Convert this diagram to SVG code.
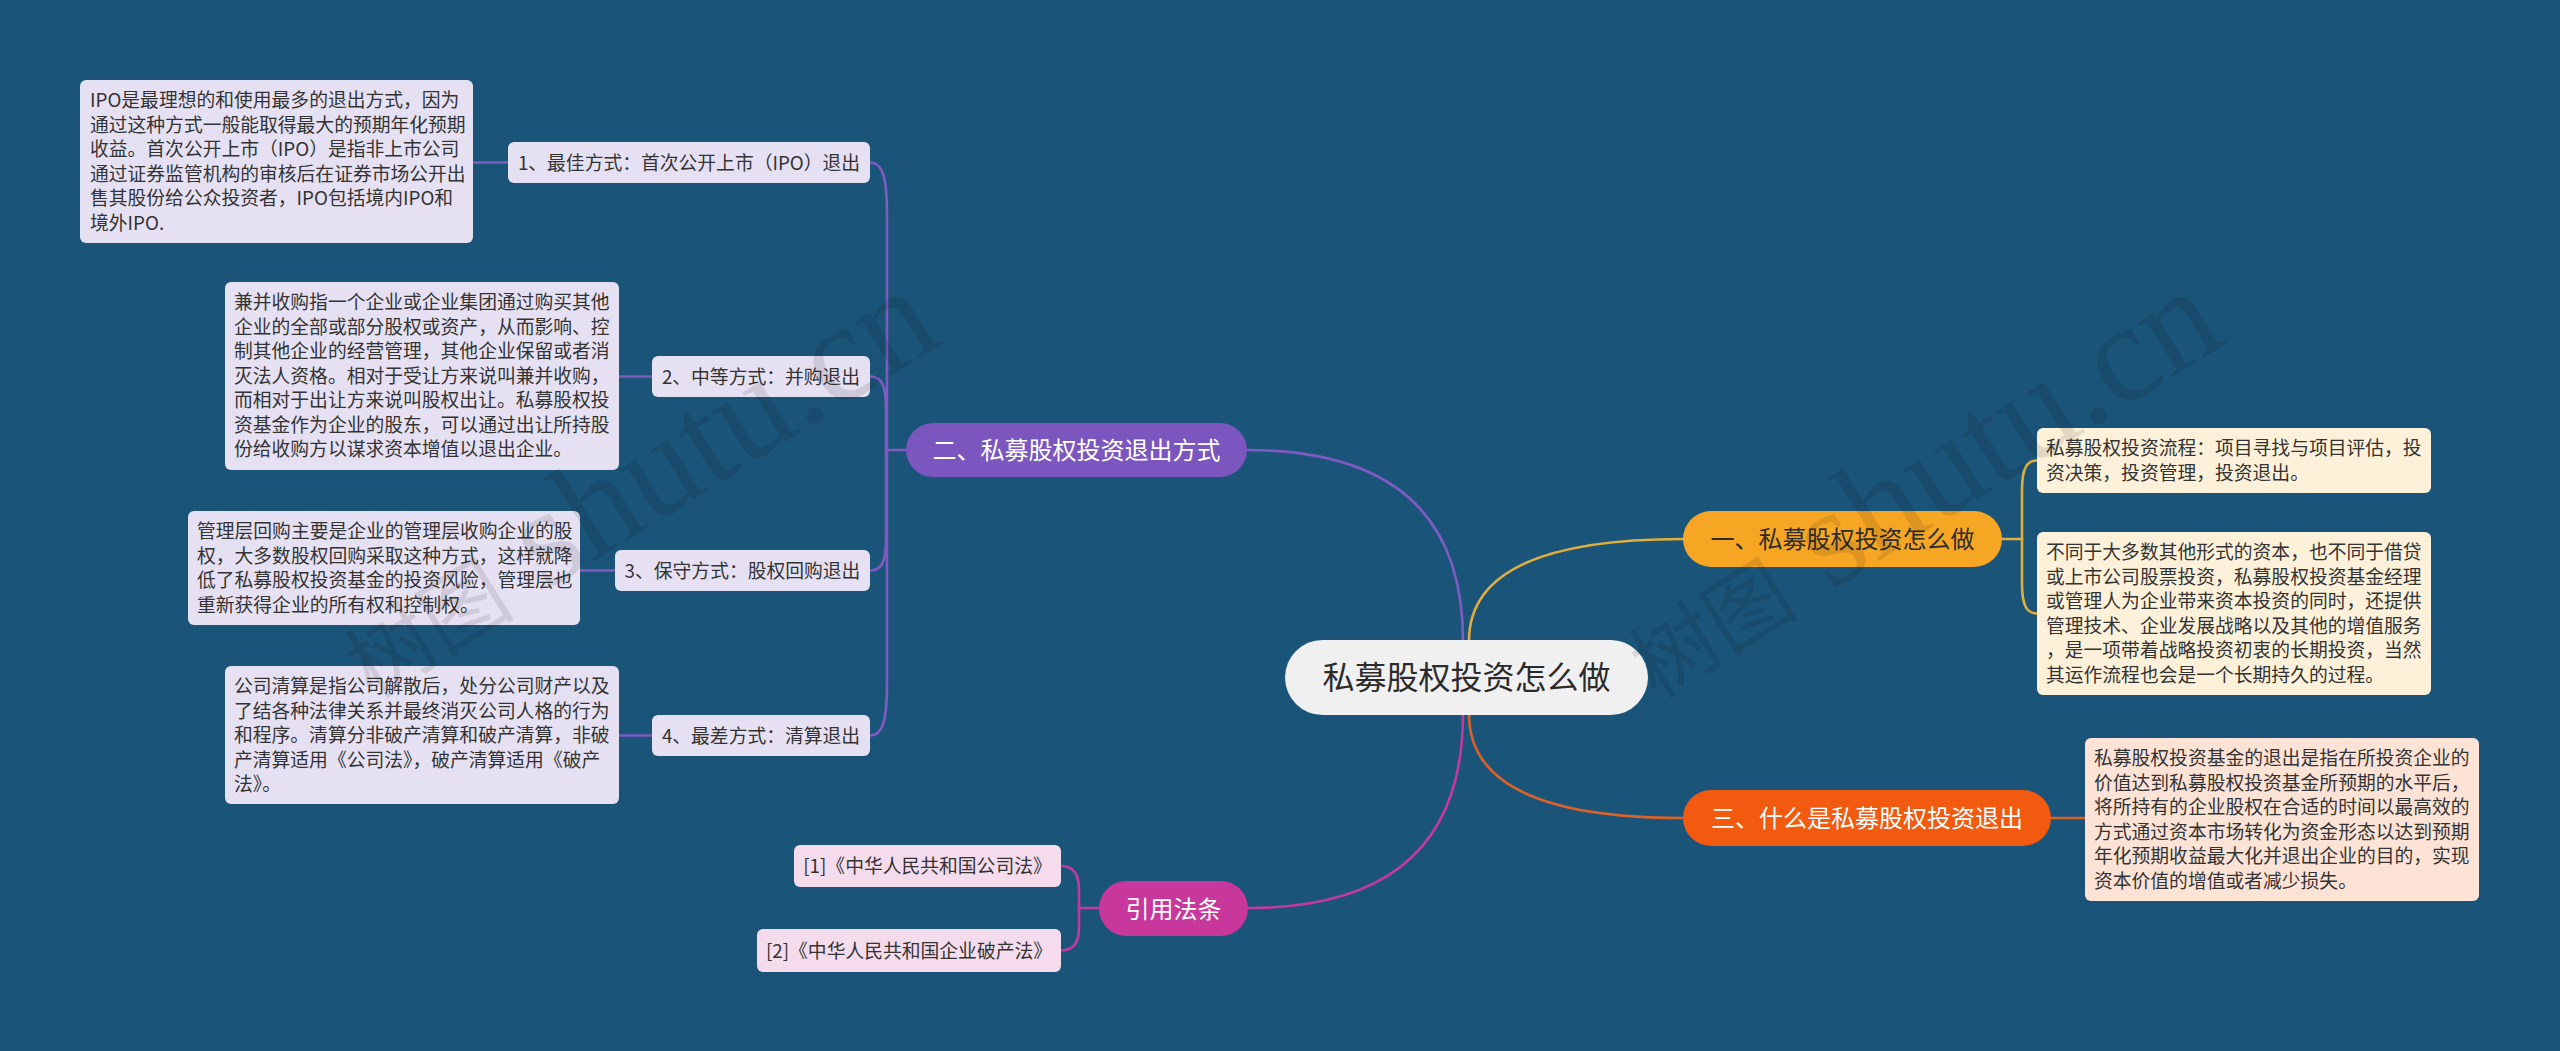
<svg xmlns="http://www.w3.org/2000/svg" width="2560" height="1051" viewBox="0 0 2560 1051">
<style>
text{font-family:"Noto Sans CJK SC","Noto Sans",sans-serif;}
.t{font-size:18.8px;fill:#333;}
.c{text-anchor:middle;}
.b{font-size:24px;text-anchor:middle;}
.lv{fill:#e6e1f2;}
.cr{fill:#fdf1d9;}
.pc{fill:#fde3d6;}
.pk{fill:#f5dced;}
.cn{fill:none;stroke-width:2.6;stroke-linecap:round;}
.pu{stroke:#7d5bc0;}
.or{stroke:#e0ae3e;}
.rd{stroke:#d9622b;}
.pi{stroke:#c23a9b;}
.wm{fill:#000;fill-opacity:0.1;}
</style>
<rect width="2560" height="1051" fill="#1b5479"/>
<g id="connectors">
<path class="cn pu" d="M1463,641 Q1463,450 1247,450"/>
<path class="cn pu" d="M906,450 L887,450"/>
<path class="cn pu" d="M870,162.5 C882,162.5 887,175 887,215 L887,450"/>
<path class="cn pu" d="M870,376.5 C882,376.5 886,385 886,410 L886,450"/>
<path class="cn pu" d="M870,570.5 C882,570.5 886,562 886,537 L886,450"/>
<path class="cn pu" d="M870,735.5 C882,735.5 887,723 887,683 L887,450"/>
<path class="cn pu" d="M473,162.5 H508"/>
<path class="cn pu" d="M619,376.5 H652"/>
<path class="cn pu" d="M580,570.5 H615"/>
<path class="cn pu" d="M619,735.5 H652"/>
<path class="cn or" d="M1469,641 Q1469,539 1683,539"/>
<path class="cn or" d="M2002,539 H2022"/>
<path class="cn or" d="M2037,460.5 C2027,460.5 2022,468 2022,490 L2022,539"/>
<path class="cn or" d="M2037,613.5 C2027,613.5 2022,606 2022,584 L2022,539"/>
<path class="cn rd" d="M1469,714 Q1469,818 1683,818"/>
<path class="cn rd" d="M2051,818 H2085"/>
<path class="cn pi" d="M1463,714 Q1463,908 1248,908"/>
<path class="cn pi" d="M1099,908 H1079"/>
<path class="cn pi" d="M1061,866 C1072,866 1079,873 1079,890 L1079,908"/>
<path class="cn pi" d="M1061,950.5 C1072,950.5 1079,944 1079,928 L1079,908"/>
</g>
<g id="center">
<rect x="1285" y="640" width="363" height="75" rx="37.5" fill="#f0f0f0"/>
<text x="1466.5" y="689" font-size="32" text-anchor="middle" fill="#2b2b2b">私募股权投资怎么做</text>
</g>
<g id="branch-2">
<rect x="906" y="423" width="341" height="54" rx="27" fill="#7c56bf"/>
<text class="b" x="1076.5" y="459" fill="#fff">二、私募股权投资退出方式</text>
</g>
<g id="sub-1">
<rect class="lv" x="508" y="142" width="362" height="41" rx="6"/>
<text class="t c" x="689" y="169.5">1、最佳方式：首次公开上市（IPO）退出</text>
</g>
<g id="leaf-1">
<rect class="lv" x="80" y="80" width="393" height="163" rx="6"/>
<text class="t" x="90" y="107">IPO是最理想的和使用最多的退出方式，因为</text>
<text class="t" x="90" y="131.5">通过这种方式一般能取得最大的预期年化预期</text>
<text class="t" x="90" y="156">收益。首次公开上市（IPO）是指非上市公司</text>
<text class="t" x="90" y="180.5">通过证券监管机构的审核后在证券市场公开出</text>
<text class="t" x="90" y="205">售其股份给公众投资者，IPO包括境内IPO和</text>
<text class="t" x="90" y="229.5">境外IPO.</text>
</g>
<g id="sub-2">
<rect class="lv" x="652" y="356" width="218" height="41" rx="6"/>
<text class="t c" x="761" y="383.5">2、中等方式：并购退出</text>
</g>
<g id="leaf-2">
<rect class="lv" x="225" y="282" width="394" height="188" rx="6"/>
<text class="t" x="234" y="309">兼并收购指一个企业或企业集团通过购买其他</text>
<text class="t" x="234" y="333.5">企业的全部或部分股权或资产，从而影响、控</text>
<text class="t" x="234" y="358">制其他企业的经营管理，其他企业保留或者消</text>
<text class="t" x="234" y="382.5">灭法人资格。相对于受让方来说叫兼并收购，</text>
<text class="t" x="234" y="407">而相对于出让方来说叫股权出让。私募股权投</text>
<text class="t" x="234" y="431.5">资基金作为企业的股东，可以通过出让所持股</text>
<text class="t" x="234" y="456">份给收购方以谋求资本增值以退出企业。</text>
</g>
<g id="sub-3">
<rect class="lv" x="615" y="550" width="255" height="41" rx="6"/>
<text class="t c" x="742.5" y="577.5">3、保守方式：股权回购退出</text>
</g>
<g id="leaf-3">
<rect class="lv" x="188" y="511" width="392" height="114" rx="6"/>
<text class="t" x="197" y="538">管理层回购主要是企业的管理层收购企业的股</text>
<text class="t" x="197" y="562.5">权，大多数股权回购采取这种方式，这样就降</text>
<text class="t" x="197" y="587">低了私募股权投资基金的投资风险，管理层也</text>
<text class="t" x="197" y="611.5">重新获得企业的所有权和控制权。</text>
</g>
<g id="sub-4">
<rect class="lv" x="652" y="715" width="218" height="41" rx="6"/>
<text class="t c" x="761" y="742.5">4、最差方式：清算退出</text>
</g>
<g id="leaf-4">
<rect class="lv" x="225" y="666" width="394" height="138" rx="6"/>
<text class="t" x="234" y="693">公司清算是指公司解散后，处分公司财产以及</text>
<text class="t" x="234" y="717.5">了结各种法律关系并最终消灭公司人格的行为</text>
<text class="t" x="234" y="742">和程序。清算分非破产清算和破产清算，非破</text>
<text class="t" x="234" y="766.5">产清算适用《公司法》，破产清算适用《破产</text>
<text class="t" x="234" y="791">法》。</text>
</g>
<g id="branch-1">
<rect x="1683" y="511" width="319" height="56" rx="28" fill="#f6a623"/>
<text class="b" x="1842.5" y="548" fill="#2d2d2d">一、私募股权投资怎么做</text>
</g>
<g id="leaf-r1">
<rect class="cr" x="2037" y="428" width="394" height="65" rx="6"/>
<text class="t" x="2046" y="455">私募股权投资流程：项目寻找与项目评估，投</text>
<text class="t" x="2046" y="479.5">资决策，投资管理，投资退出。</text>
</g>
<g id="leaf-r2">
<rect class="cr" x="2037" y="532" width="394" height="163" rx="6"/>
<text class="t" x="2046" y="559">不同于大多数其他形式的资本，也不同于借贷</text>
<text class="t" x="2046" y="583.5">或上市公司股票投资，私募股权投资基金经理</text>
<text class="t" x="2046" y="608">或管理人为企业带来资本投资的同时，还提供</text>
<text class="t" x="2046" y="632.5">管理技术、企业发展战略以及其他的增值服务</text>
<text class="t" x="2046" y="657">，是一项带着战略投资初衷的长期投资，当然</text>
<text class="t" x="2046" y="681.5">其运作流程也会是一个长期持久的过程。</text>
</g>
<g id="branch-3">
<rect x="1683" y="790" width="368" height="56" rx="28" fill="#f15a0f"/>
<text class="b" x="1867" y="827" fill="#fff">三、什么是私募股权投资退出</text>
</g>
<g id="leaf-r3">
<rect class="pc" x="2085" y="738" width="394" height="163" rx="6"/>
<text class="t" x="2094" y="765">私募股权投资基金的退出是指在所投资企业的</text>
<text class="t" x="2094" y="789.5">价值达到私募股权投资基金所预期的水平后，</text>
<text class="t" x="2094" y="814">将所持有的企业股权在合适的时间以最高效的</text>
<text class="t" x="2094" y="838.5">方式通过资本市场转化为资金形态以达到预期</text>
<text class="t" x="2094" y="863">年化预期收益最大化并退出企业的目的，实现</text>
<text class="t" x="2094" y="887.5">资本价值的增值或者减少损失。</text>
</g>
<g id="branch-4">
<rect x="1099" y="881" width="149" height="55" rx="27.5" fill="#c8379b"/>
<text class="b" x="1173.5" y="917.5" fill="#fff">引用法条</text>
</g>
<g id="cite-1">
<rect class="pk" x="794" y="845" width="267" height="42" rx="6"/>
<text class="t c" x="927.5" y="873">[1]《中华人民共和国公司法》</text>
</g>
<g id="cite-2">
<rect class="pk" x="757" y="929" width="304" height="43" rx="6"/>
<text class="t c" x="909" y="957.5">[2]《中华人民共和国企业破产法》</text>
</g>
<g id="watermark">
<text class="wm" transform="translate(372,700) rotate(-32)"><tspan font-size="85">树图</tspan><tspan dx="35" font-size="140" font-family="Liberation Serif,serif">shutu.cn</tspan></text>
<text class="wm" transform="translate(1656,700) rotate(-32)"><tspan font-size="85">树图</tspan><tspan dx="35" font-size="140" font-family="Liberation Serif,serif">shutu.cn</tspan></text>
</g>
</svg>
